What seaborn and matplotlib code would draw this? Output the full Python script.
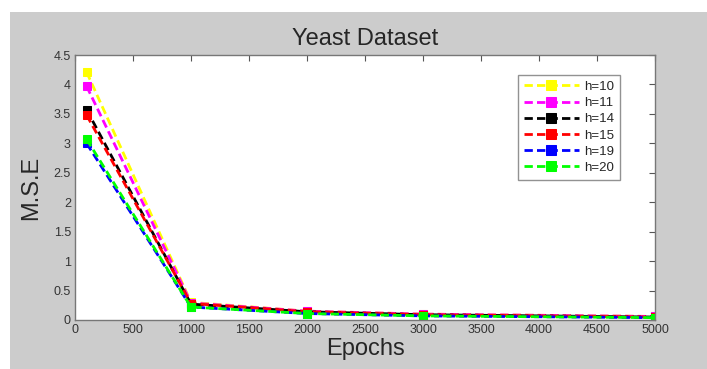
import pandas as pd
import seaborn as sns
import matplotlib.pyplot as plt
from matplotlib.patches import Rectangle

# Data
epochs = [100, 1000, 2000, 3000, 5000]
hidden = ['h=10', 'h=11', 'h=14', 'h=15', 'h=19', 'h=20']
mse_h10 = [4.21, 0.30, 0.15, 0.10, 0.06]
mse_h11 = [3.97, 0.29, 0.15, 0.10, 0.06]
mse_h14 = [3.57, 0.27, 0.14, 0.09, 0.05]
mse_h15 = [3.48, 0.28, 0.14, 0.09, 0.05]
mse_h19 = [3.00, 0.22, 0.11, 0.07, 0.04]
mse_h20 = [3.07, 0.22, 0.11, 0.07, 0.04]
colors = ['#ffff00', '#ff00ff', '#000000', '#ff0000', '#0000ff', '#00ff00']

series = [mse_h10, mse_h11, mse_h14, mse_h15, mse_h19, mse_h20]
df = pd.DataFrame({
    'Epochs': epochs * len(hidden),
    'MSE': [v for s in series for v in s],
    'h': [h for h in hidden for _ in epochs],
})

sns.set_style('white')
plt.rcParams['font.family'] = ['Liberation Sans', 'DejaVu Sans']

fig = plt.figure(figsize=(7.07, 3.69), dpi=100, facecolor='white')
# grey MATLAB-like figure background
fig.patches.append(Rectangle((10 / 707, 0), 1, (369 - 12) / 369,
                             transform=fig.transFigure, facecolor='#cccccc',
                             edgecolor='none', zorder=-1))
ax = fig.add_axes([75 / 707, 1 - 320 / 369, 580 / 707, 265 / 369])

sns.lineplot(data=df, x='Epochs', y='MSE', hue='h', palette=colors, ax=ax,
             marker='s', markersize=6, linestyle='--', linewidth=2,
             dashes=False)
for line, c in zip(ax.get_lines(), colors):
    line.set_markeredgecolor(c)
    line.set_linestyle((0, (3, 1.5)))

ax.set_xlim(0, 5000)
ax.set_ylim(0, 4.5)
ax.set_xticks(range(0, 5001, 500))
ax.set_yticks([i * 0.5 for i in range(10)])
ax.set_yticklabels(['0', '0.5', '1', '1.5', '2', '2.5', '3', '3.5', '4', '4.5'])
ax.tick_params(direction='in', top=True, right=True, length=4, width=0.8,
               color='#555555', labelsize=9, labelcolor='#333333', pad=3)
for sp in ax.spines.values():
    sp.set_color('#777777')
    sp.set_linewidth(1)

ax.set_title('Yeast Dataset', fontsize=17, pad=7)
ax.set_xlabel('Epochs', fontsize=17, labelpad=1)
ax.set_ylabel('M.S.E', fontsize=17, labelpad=8)

leg = ax.legend(loc='upper left', bbox_to_anchor=(0.752, 0.95), fontsize=9.5,
                frameon=True, fancybox=False, handlelength=4.2,
                borderpad=0.45, labelspacing=0.3, handletextpad=0.4)
leg.get_frame().set_edgecolor('#777777')
leg.get_frame().set_linewidth(1)
for hl, c in zip(leg.get_lines(), colors):
    hl.set_linestyle((0, (3, 1.5)))
    hl.set_markersize(7)
    hl.set_markeredgecolor(c)

plt.savefig('out.png', dpi=100, facecolor=fig.get_facecolor())
